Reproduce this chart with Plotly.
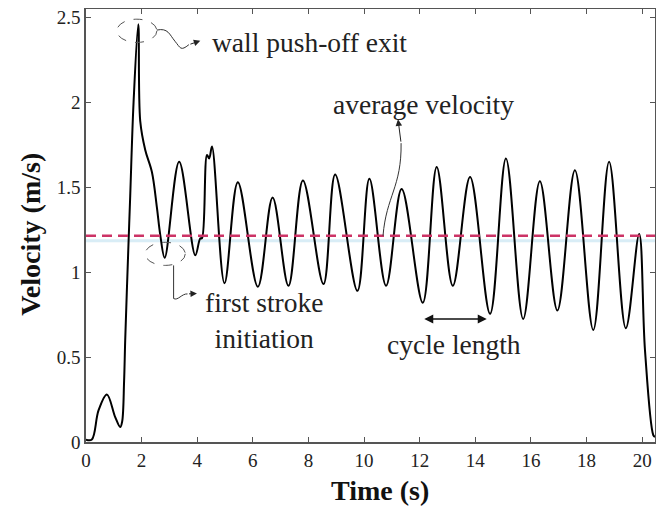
import plotly.graph_objects as go

# ---- data ----
time_s = [0, 0.21, 0.45, 0.75, 1.05, 1.23, 1.30, 1.37, 1.41, 1.52, 1.59, 1.71, 1.88,
          1.95, 2.13, 2.37, 2.55, 2.67, 2.83, 3.35, 3.93, 4.11, 4.17, 4.35, 4.43, 4.53,
          4.98, 5.46, 6.18, 6.71, 7.28, 7.80, 8.54, 8.96, 9.76, 10.19, 10.79, 11.35,
          12.11, 12.61, 13.19, 13.81, 14.53, 15.10, 15.72, 16.32, 16.95, 17.58, 18.24,
          18.81, 19.41, 19.89, 20.10, 20.40, 20.46]
velocity = [0.014, 0.015, 0.186, 0.28, 0.147, 0.088, 0.12, 0.36, 0.60, 1.13, 1.45, 2.0, 2.46,
            1.89, 1.72, 1.59, 1.38, 1.22, 1.085, 1.65, 1.10, 1.20, 1.20, 1.69, 1.67, 1.74,
            0.935, 1.53, 0.915, 1.44, 0.92, 1.54, 0.93, 1.575, 0.89, 1.55, 0.92, 1.49,
            0.82, 1.62, 0.92, 1.56, 0.755, 1.67, 0.725, 1.535, 0.775, 1.60, 0.66,
            1.65, 0.67, 1.225, 0.54, 0.04, 0.03]
average_velocity = 1.215

x_ticks = [0, 2, 4, 6, 8, 10, 12, 14, 16, 18, 20]
y_ticks = [0, 0.5, 1, 1.5, 2, 2.5]

FONT = "Liberation Serif"
GRAY = "#555555"

fig = go.Figure()

fig.add_trace(go.Scatter(
    x=time_s, y=velocity, mode="lines",
    line=dict(color="black", width=2, shape="spline", smoothing=1.0),
    hoverinfo="skip", showlegend=False))

shapes = [
    # faint light-blue band under the average line
    dict(type="line", xref="paper", yref="y", x0=0, x1=1,
         y0=average_velocity - 0.03, y1=average_velocity - 0.03,
         line=dict(color="rgba(170,215,235,0.45)", width=3), layer="below"),
    # average velocity dashed line
    dict(type="line", xref="paper", yref="y", x0=0, x1=1,
         y0=average_velocity, y1=average_velocity,
         line=dict(color="#cc3366", width=2.5, dash="10px,6px")),
    # ellipse around push-off peak
    dict(type="circle", xref="x", yref="y", x0=1.11, x1=2.55, y0=2.353, y1=2.49,
         line=dict(color=GRAY, width=1, dash="dash")),
    # ellipse around first stroke min
    dict(type="circle", xref="x", yref="y", x0=2.13, x1=3.57, y0=1.04, y1=1.176,
         line=dict(color=GRAY, width=1, dash="dash")),
    # wavy leader: push-off
    dict(type="path", xref="x", yref="y",
         path="M2.55,2.426 C2.95,2.44 3.0,2.40 3.2,2.36 S3.4,2.30 3.7,2.34",
         line=dict(color="#333", width=1)),
    # leader: first stroke
    dict(type="path", xref="x", yref="y",
         path="M3.15,1.04 L3.15,0.845 C3.3,0.83 3.45,0.875 3.65,0.872",
         line=dict(color="#333", width=1)),
    # leader: average velocity
    dict(type="path", xref="x", yref="y",
         path="M10.68,1.215 C10.8,1.45 11.35,1.50 11.33,1.76",
         line=dict(color="#333", width=1)),
]

tf = dict(family=FONT, size=27.5, color="#222")
titlef = dict(family=FONT, size=28, color="#111")
annotations = [
    dict(x=8.03, y=2.35, xref="x", yref="y", text="wall push-off exit", showarrow=False, font=tf),
    dict(x=12.13, y=1.99, xref="x", yref="y", text="average velocity", showarrow=False, font=tf),
    dict(x=6.39, y=0.716, xref="x", yref="y", text="first stroke<br>initiation", showarrow=False,
         font=tf),
    dict(x=13.22, y=0.575, xref="x", yref="y", text="cycle length", showarrow=False, font=tf),
    # arrowheads
    dict(x=4.11, y=2.363, ax=3.7, ay=2.34, xref="x", yref="y", axref="x", ayref="y", text="",
         showarrow=True, arrowhead=2, arrowsize=1.3, arrowwidth=1, arrowcolor="#222"),
    dict(x=3.99, y=0.875, ax=3.65, ay=0.872, xref="x", yref="y", axref="x", ayref="y", text="",
         showarrow=True, arrowhead=2, arrowsize=1.3, arrowwidth=1, arrowcolor="#222"),
    dict(x=11.22, y=1.90, ax=11.33, ay=1.76, xref="x", yref="y", axref="x", ayref="y", text="",
         showarrow=True, arrowhead=2, arrowsize=1.3, arrowwidth=1, arrowcolor="#222"),
    dict(x=14.41, y=0.725, ax=12.11, ay=0.725, xref="x", yref="y", axref="x", ayref="y", text="",
         showarrow=True, arrowhead=2, startarrowhead=2, arrowside="end+start", arrowsize=1.2,
         startarrowsize=1.2, arrowwidth=1.5, arrowcolor="#111"),
    # axis titles
    dict(x=0.517, y=-0.111, xref="paper", yref="paper", text="<b>Time (s)</b>",
         showarrow=False, font=titlef, xanchor="center", yanchor="middle"),
    dict(x=-0.098, y=0.479, xref="paper", yref="paper", text="<b>Velocity (m/s)</b>",
         showarrow=False, font=titlef, textangle=-90, xanchor="center", yanchor="middle"),
]

axis_common = dict(showgrid=False, zeroline=False, showline=True, linecolor=GRAY, linewidth=1.5,
                   ticks="inside", ticklen=5, tickcolor=GRAY, mirror="ticks", automargin=False,
                   ticklabeloverflow="allow",
                   tickfont=dict(family=FONT, size=19, color="#222"))

# the page body has an 8px default margin, so the figure is sized to fit inside the window
fig.update_layout(
    width=656, height=498,
    margin=dict(l=78, r=9, t=1, b=64),
    paper_bgcolor="white", plot_bgcolor="white",
    shapes=shapes, annotations=annotations,
    xaxis=dict(range=[0, 20.46], tickvals=x_ticks, **axis_common),
    yaxis=dict(range=[0, 2.55], tickvals=y_ticks, **axis_common),
)

fig.write_html("out.html")
